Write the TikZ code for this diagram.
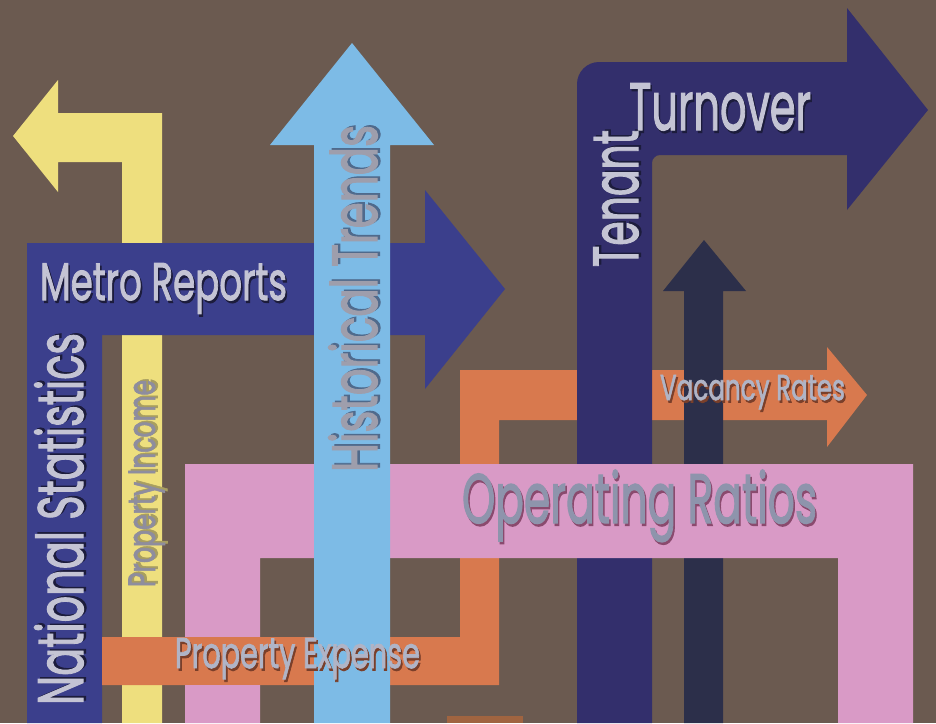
\documentclass[tikz,border=0pt]{standalone}
\usepackage{fontspec}
\usepackage{graphicx}
\setmainfont[FakeBold=2]{Poppins}
\definecolor{bgc}{HTML}{6B5A50}
\definecolor{yelc}{HTML}{EEDF7E}
\definecolor{metroc}{HTML}{3B3F8C}
\definecolor{lbluec}{HTML}{7DBBE6}
\definecolor{pinkc}{HTML}{D99AC6}
\definecolor{orangec}{HTML}{D8794E}
\definecolor{tenantc}{HTML}{332F6C}
\definecolor{darkc}{HTML}{2C2F4A}
\definecolor{stubc}{HTML}{A06440}
% text colours (T) and shadow colours (S)
\definecolor{navyT}{HTML}{C4C4D4}\definecolor{navyS}{HTML}{1C1C3C}
\definecolor{pinkT}{HTML}{8E94AC}\definecolor{pinkS}{HTML}{8A4A6E}
\definecolor{orangeT}{HTML}{B0B4C6}\definecolor{orangeS}{HTML}{7A3F2A}
\definecolor{yellT}{HTML}{8E8D9E}\definecolor{yellS}{HTML}{A89E60}
\definecolor{blueT}{HTML}{9E9EAC}\definecolor{blueS}{HTML}{4F6A8C}
\tikzset{
  lbl/.style={inner sep=0pt, outer sep=0pt, anchor=base west},
}
\newcommand\lbl[7]{%
  \node[lbl,rotate=#3] (#1) at #2 {\resizebox{#5pt}{\height}{\fontsize{#4}{#4}\selectfont\rlap{\kern2.5pt\raisebox{-2.5pt}{\color{#6S}#7}}\color{#6T}#7}};}
\begin{document}
\begin{tikzpicture}[x=1pt,y=-1pt]
\useasboundingbox (0,0) rectangle (936,723);
\fill[bgc] (0,0) rectangle (936,723);
% yellow arrow
\fill[yelc] (122,723) -- (122,162) -- (58,162) -- (58,192) -- (13,136) -- (58,80) -- (58,113) -- (162,113) -- (162,723) -- cycle;
% metro navy
\fill[metroc] (27,723) -- (27,243) -- (425,243) -- (425,190) -- (505,289) -- (425,389) -- (425,335) -- (102,335) -- (102,723) -- cycle;
% orange (vertical + vacancy arrow)
\fill[orangec] (102,637) -- (460,637) -- (460,370) -- (827,370) -- (827,347) -- (867,395) -- (827,447) -- (827,420) -- (499,420) -- (499,685) -- (102,685) -- cycle;
% tenant navy
\fill[tenantc] (577,723) -- (577,84) .. controls (577,71.9) and (586.9,62) .. (599,62) -- (847,62) -- (847,8) -- (928,110) -- (847,210) -- (847,155) -- (660,155) .. controls (655.6,155) and (652,158.6) .. (652,163) -- (652,723) -- cycle;
% dark arrow
\fill[darkc] (684,723) -- (684,291) -- (663,291) -- (704,240) -- (746,291) -- (723,291) -- (723,723) -- cycle;
% pink
\fill[pinkc] (185,723) -- (185,464) -- (913,464) -- (913,723) -- (838,723) -- (838,558) -- (260,558) -- (260,723) -- cycle;
% orange bottom band over pink
\fill[orangec] (102,637) rectangle (499,685);
% stub at bottom
\fill[stubc] (447,716) rectangle (523,723);
% light blue arrow
\fill[lbluec] (314,723) -- (314,145) -- (270,145) -- (352,43) -- (434,145) -- (390,145) -- (390,723) -- cycle;
% labels
\lbl{metro}{(40,300)}{0}{53}{247}{navy}{Metro Reports}
\lbl{natstat}{(83,705)}{90}{64}{372}{navy}{National Statistics}
\lbl{propinc}{(155,587)}{90}{38}{207}{yell}{Property Income}
\lbl{hist}{(377,472)}{90}{64}{347}{blue}{Historical Trends}
\lbl{tenant}{(638,267)}{90}{64}{137}{navy}{Tenant}
\lbl{turnover}{(629,130)}{0}{67}{182}{navy}{Turnover}
\lbl{vacancy}{(660,400)}{0}{36}{185}{orange}{Vacancy Rates}
\lbl{operating}{(462,523)}{0}{70}{355}{pink}{Operating Ratios}
\lbl{propexp}{(175,668)}{0}{43}{245}{orange}{Property Expense}
\end{tikzpicture}
\end{document}
